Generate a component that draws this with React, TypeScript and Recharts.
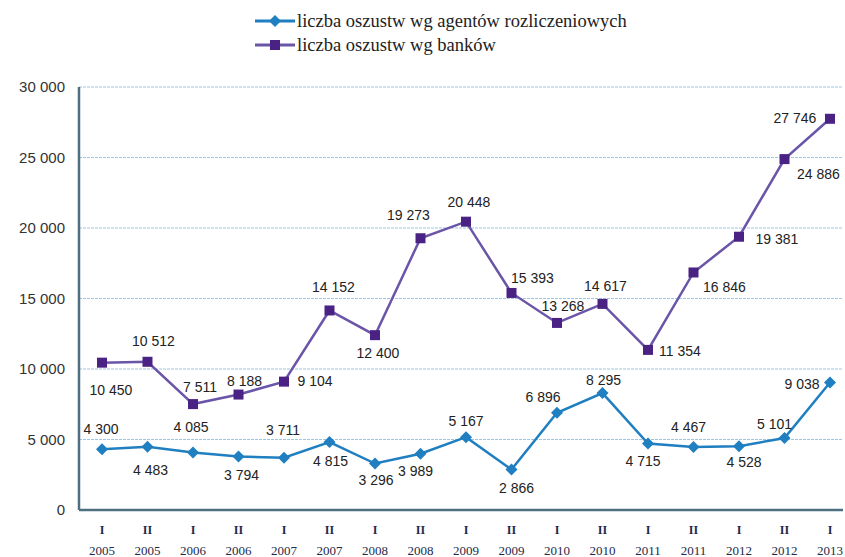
import React from 'react';
import { LineChart, Line, XAxis, YAxis, CartesianGrid } from 'recharts';

const halfYears = ['I', 'II', 'I', 'II', 'I', 'II', 'I', 'II', 'I', 'II', 'I', 'II', 'I', 'II', 'I', 'II', 'I'];
const years = ['2005', '2005', '2006', '2006', '2007', '2007', '2008', '2008', '2009', '2009', '2010', '2010', '2011', '2011', '2012', '2012', '2013'];
const agents = [4300, 4483, 4085, 3794, 3711, 4815, 3296, 3989, 5167, 2866, 6896, 8295, 4715, 4467, 4528, 5101, 9038];
const banks = [10450, 10512, 7511, 8188, 9104, 14152, 12400, 19273, 20448, 15393, 13268, 14617, 11354, 16846, 19381, 24886, 27746];
const yTicks = [0, 5000, 10000, 15000, 20000, 25000, 30000];
const seriesNames = ['liczba oszustw wg agentów rozliczeniowych', 'liczba oszustw wg banków'];

// label placement offsets (dx, dy) relative to each point
const agentLabelOffsets: [number, number][] = [
  [-1, -20], [3, 23], [-2, -25], [3, 18], [-1, -28], [1, 19], [1, 16], [-5, 17], [0, -16], [5, 18],
  [-14, -16], [1, -13], [-5, 17], [-5, -20], [5, 16], [-10, -14], [-28, 1],
];
const bankLabelOffsets: [number, number][] = [
  [9, 27], [6, -21], [7, -17], [6, -14], [31, -1], [4, -23], [3, 18], [-12, -23], [3, -20], [21, -15],
  [6, -17], [3, -18], [32, 1], [31, 15], [38, 2], [34, 15], [-35, -1],
];

const data = halfYears.map((h, i) => ({
  name: `${h} ${years[i]}`,
  half: h,
  year: years[i],
  agents: agents[i],
  banks: banks[i],
}));

const BLUE = '#1f7fc0';
const PURPLE_LINE = '#6a55a8';
const PURPLE_MARK = '#4a2283';
const AXIS = '#4d6f80';

const fmt = (v: number) => String(v).replace(/\B(?=(\d{3})+(?!\d))/g, ' ');

const XTick = (props: any) => {
  const { x, y, payload, index } = props;
  return (
    <g>
      <text x={x} y={y + 16} textAnchor="middle" fontFamily="'Liberation Serif', serif" fontSize={12} fontWeight="bold" fill="#1d2b4a">
        {halfYears[index] ?? ''}
      </text>
      <text x={x} y={y + 37} textAnchor="middle" fontFamily="'Liberation Serif', serif" fontSize={13} fill="#1d2b4a">
        {years[index] ?? payload.value}
      </text>
    </g>
  );
};

const Diamond = (props: any) => {
  const { cx, cy, index } = props;
  if (cx == null || cy == null) return <g key={index} />;
  const r = 6;
  return (
    <path key={index} d={`M${cx},${cy - r}L${cx + r},${cy}L${cx},${cy + r}L${cx - r},${cy}Z`} fill={BLUE} />
  );
};

const Square = (props: any) => {
  const { cx, cy, index } = props;
  if (cx == null || cy == null) return <g key={index} />;
  const s = 5;
  return <rect key={index} x={cx - s} y={cy - s} width={2 * s} height={2 * s} fill={PURPLE_MARK} />;
};

const makeLabel = (offsets: [number, number][]) => (props: any) => {
  const { x, y, value, index } = props;
  const [dx, dy] = offsets[index] || [0, -15];
  return (
    <text
      key={index}
      x={x + dx}
      y={y + dy}
      textAnchor="middle"
      dominantBaseline="central"
      fontFamily="'Liberation Sans', Arial, sans-serif"
      fontSize={14}
      fill="#222"
    >
      {fmt(value)}
    </text>
  );
};

const LegendRow = ({ label, square }: { label: string; square: boolean }) => (
  <div style={{ display: 'flex', alignItems: 'center', height: 24 }}>
    <svg width={40} height={14} style={{ marginRight: 2 }}>
      <line x1={0} y1={7} x2={40} y2={7} stroke={square ? PURPLE_LINE : BLUE} strokeWidth={3} />
      {square ? (
        <rect x={15} y={2} width={10} height={10} fill={PURPLE_MARK} />
      ) : (
        <path d="M20,1L26,7L20,13L14,7Z" fill={BLUE} />
      )}
    </svg>
    <span style={{ fontFamily: "'Liberation Serif', serif", fontSize: 18.5, color: '#222' }}>{label}</span>
  </div>
);

export default function App() {
  return (
    <div style={{ position: 'absolute', left: 0, top: 0, width: 845, height: 557, background: '#fff' }}>
      <div style={{ position: 'absolute', left: 255, top: 9, zIndex: 2 }}>
        <LegendRow label={seriesNames[0]} square={false} />
        <LegendRow label={seriesNames[1]} square={true} />
      </div>
      <LineChart width={845} height={557} data={data} margin={{ top: 87, right: 2, bottom: 7, left: 0 }}>
        <CartesianGrid vertical={false} stroke="#9cc7e4" strokeDasharray="3 1" />
        <XAxis
          dataKey="name"
          interval={0}
          padding={{ left: 23, right: 13 }}
          height={40}
          tickLine={false}
          axisLine={{ stroke: AXIS, strokeWidth: 2.5 }}
          tick={<XTick />}
        />
        <YAxis
          domain={[0, 30000]}
          ticks={yTicks}
          width={79}
          tickLine={false}
          tickMargin={8}
          axisLine={{ stroke: AXIS, strokeWidth: 2.5 }}
          tickFormatter={fmt}
          tick={{ fontFamily: "'Liberation Sans', Arial, sans-serif", fontSize: 15, fill: '#333' }}
        />
        <Line
          type="linear"
          dataKey="agents"
          name={seriesNames[0]}
          stroke={BLUE}
          strokeWidth={2.5}
          dot={<Diamond />}
          activeDot={false}
          label={makeLabel(agentLabelOffsets)}
          isAnimationActive={false}
        />
        <Line
          type="linear"
          dataKey="banks"
          name={seriesNames[1]}
          stroke={PURPLE_LINE}
          strokeWidth={2.5}
          dot={<Square />}
          activeDot={false}
          label={makeLabel(bankLabelOffsets)}
          isAnimationActive={false}
        />
      </LineChart>
    </div>
  );
}
